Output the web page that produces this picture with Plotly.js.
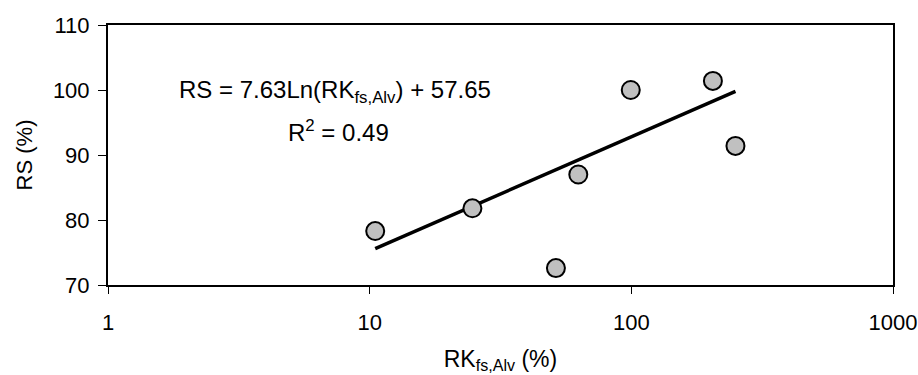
<!DOCTYPE html>
<html>
<head>
<meta charset="utf-8">
<script src="https://cdn.plot.ly/plotly-3.0.1.min.js"></script>
<style>
  html, body { margin: 0; padding: 0; background: #fff; }
  #chart { width: 918px; height: 375px; }
</style>
</head>
<body>
<div id="chart"></div>
<script>
// Measured samples: RK_fs,Alv (%) against RS (%)
const rkValues = [10.5, 24.7, 51.5, 62.7, 99.5, 205, 250];
const rsValues = [78.3, 81.8, 72.6, 87.0, 100.0, 101.4, 91.4];

// Logarithmic fit RS = a*ln(RK) + b, as printed on the chart
const fitSlope = 7.63;
const fitIntercept = 57.65;
const fitR2 = 0.49;

const xTicks = [1, 10, 100, 1000];
const yTicks = [70, 80, 90, 100, 110];

// Fit is straight on a log axis: evaluate it at the data extremes
const fitX = [Math.min(...rkValues), Math.max(...rkValues)];
const fitY = fitX.map(v => fitSlope * Math.log(v) + fitIntercept);

const fontFamily = '"Liberation Sans", Arial, sans-serif';

const traces = [
  {
    x: fitX, y: fitY, type: 'scatter', mode: 'lines',
    line: { color: '#000', width: 3.5 },
    hoverinfo: 'skip', showlegend: false
  },
  {
    x: rkValues, y: rsValues, type: 'scatter', mode: 'markers',
    marker: { size: 18, color: '#c0c0c0', line: { color: '#000', width: 2 } },
    showlegend: false
  }
];

const layout = {
  width: 918, height: 375,
  margin: { l: 108, r: 25, t: 25, b: 90 },
  paper_bgcolor: '#fff', plot_bgcolor: '#fff',
  font: { family: fontFamily, size: 22, color: '#000' },
  xaxis: {
    type: 'log', range: [0, 3],
    tickvals: xTicks, ticktext: xTicks.map(String),
    ticks: 'outside', ticklen: 7, tickwidth: 1, tickcolor: '#000',
    ticklabelstandoff: 10,
    showgrid: false, zeroline: false,
    showline: true, linecolor: '#000', linewidth: 2, mirror: true,
    tickfont: { size: 22 },
    title: { text: 'RK<sub>fs,Alv</sub> (%)', font: { size: 23 }, standoff: 16 }
  },
  yaxis: {
    range: [70, 110], tickvals: yTicks,
    ticks: 'outside', ticklen: 8, tickwidth: 1, tickcolor: '#000',
    ticklabelstandoff: 4,
    showgrid: false, zeroline: false,
    showline: true, linecolor: '#000', linewidth: 2, mirror: true,
    tickfont: { size: 22 },
    title: { text: 'RS (%)', font: { size: 22 }, standoff: 14 }
  },
  annotations: [
    {
      xref: 'paper', yref: 'paper', x: 0.289, y: 0.746,
      xanchor: 'center', yanchor: 'middle', showarrow: false,
      text: 'RS = ' + fitSlope.toFixed(2) + 'Ln(RK<sub>fs,Alv</sub>) + ' + fitIntercept.toFixed(2),
      font: { size: 24 }
    },
    {
      xref: 'paper', yref: 'paper', x: 0.293, y: 0.592,
      xanchor: 'center', yanchor: 'middle', showarrow: false,
      text: 'R<sup>2</sup> = ' + fitR2.toFixed(2),
      font: { size: 24 }
    }
  ]
};

Plotly.newPlot('chart', traces, layout, { displayModeBar: false, staticPlot: true });
</script>
</body>
</html>
